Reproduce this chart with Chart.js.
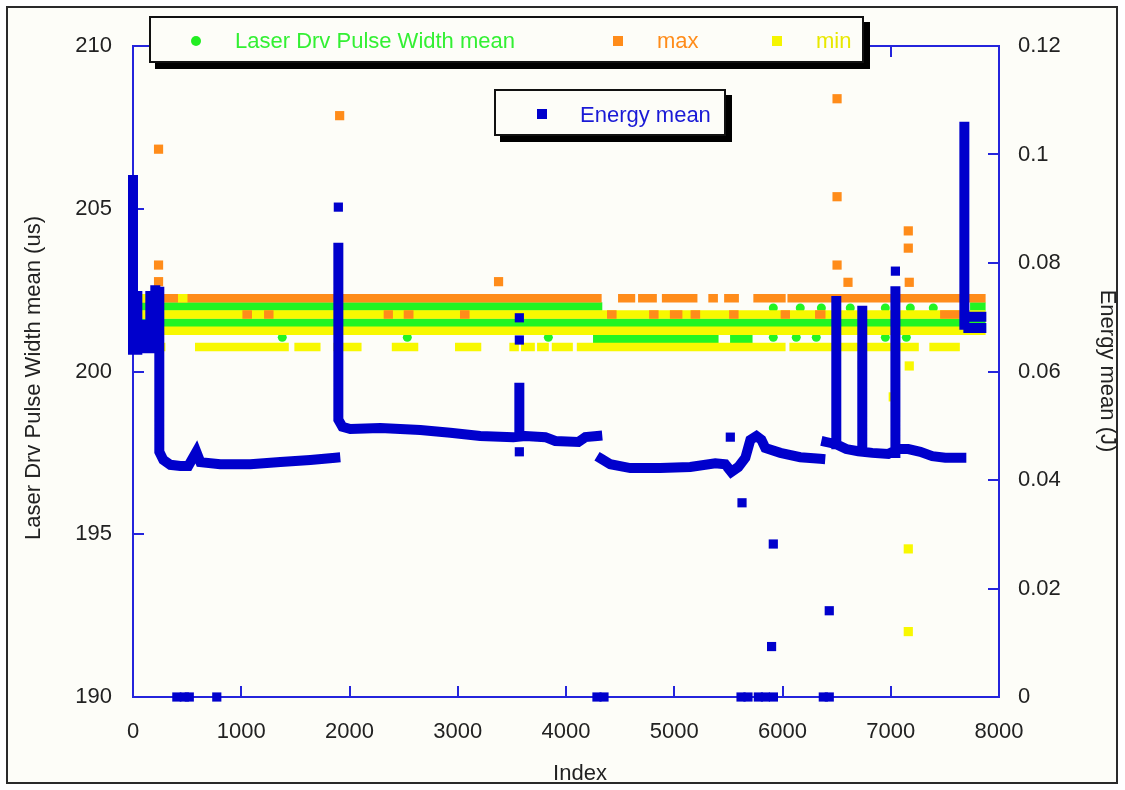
<!DOCTYPE html>
<html><head><meta charset="utf-8">
<script src="https://cdn.jsdelivr.net/npm/chart.js@4.4.1/dist/chart.umd.min.js"></script>
<style>
html,body{margin:0;padding:0;background:#fff;}
#wrap{position:relative;width:1125px;height:790px;overflow:hidden;font-family:'Liberation Sans',Arial,sans-serif;}
#frame{position:absolute;left:6px;top:6px;width:1112px;height:778px;box-sizing:border-box;border:2px solid #2a2a2a;background:#fdfdf8;z-index:0;}
#c{position:absolute;left:0;top:0;z-index:1;}
.lg{position:absolute;box-sizing:border-box;border:2px solid #111;background:#fdfdf8;box-shadow:6px 6px 0 #000;z-index:2;}
.t{position:absolute;font-size:22px;line-height:26px;white-space:nowrap;z-index:3;color:#222;}
.mk{position:absolute;z-index:3;}
</style></head>
<body><div id="wrap">
<div id="frame"></div>
<canvas id="c" width="1125" height="790"></canvas>
<div class="lg" style="left:149px;top:16px;width:715px;height:47px;"></div>
<div class="mk" style="left:191px;top:36px;width:10px;height:10px;border-radius:50%;background:#22ee22;"></div>
<div class="t" style="left:235px;top:28px;color:#33f033;">Laser Drv Pulse Width mean</div>
<div class="mk" style="left:613px;top:36px;width:10px;height:10px;background:#ff8c1a;"></div>
<div class="t" style="left:657px;top:28px;color:#ff8c1a;">max</div>
<div class="mk" style="left:772px;top:36px;width:10px;height:10px;background:#f5f500;"></div>
<div class="t" style="left:816px;top:28px;color:#e8e800;">min</div>
<div class="lg" style="left:494px;top:89px;width:232px;height:47px;"></div>
<div class="mk" style="left:537px;top:109px;width:10px;height:10px;background:#0000cc;"></div>
<div class="t" style="left:580px;top:102px;color:#1a1ad6;">Energy mean</div>
<div class="t" style="left:380px;top:760px;width:400px;text-align:center;">Index</div>
<div class="t" style="left:-167px;top:365px;width:400px;text-align:center;transform:rotate(-90deg);">Laser Drv Pulse Width mean (us)</div>
<div class="t" style="left:908px;top:358px;width:400px;text-align:center;transform:rotate(90deg);">Energy mean (J)</div>
</div>
<script>
// ---------- tick values / labels ----------
const xTicks = [0,1000,2000,3000,4000,5000,6000,7000,8000];
const xTickLabels = ['0','1000','2000','3000','4000','5000','6000','7000','8000'];
const leftTicks = [190,195,200,205,210];
const leftTickLabels = ['190','195','200','205','210'];
const rightTicks = [0,0.02,0.04,0.06,0.08,0.1,0.12];
const rightTickLabels = ['0','0.02','0.04','0.06','0.08','0.1','0.12'];

// ---------- Laser Drv Pulse Width (left axis) : runs [value, startIndex, endIndex] ----------
const meanRuns = [[202.0,0,4296],[202.0,7772,7837],[201.5,0,7837],[201.0,4289,5370],[201.0,5555,5684]];
const meanPts = [[5915,201.95],[6164,201.95],[6359,201.95],[6626,201.95],[6950,201.95],[7181,201.95],[7393,201.95],
  [1379,201.05],[2534,201.05],[3837,201.05],[5915,201.05],[6127,201.05],[6312,201.05],[6950,201.05],[7144,201.05]];
const maxRuns = [[202.25,0,4290],[202.25,4520,4600],[202.25,4705,4800],[202.25,4925,5175],[202.25,5354,5364],
  [202.25,5500,5558],[202.25,5770,5990],[202.25,6085,7837]];
const maxRunsLow = [[201.75,1050,1060],[201.75,1250,1259],[201.75,2355,2362],[201.75,2540,2552],[201.75,3060,3070],
  [201.75,4418,4428],[201.75,4807,4816],[201.75,4999,5036],[201.75,5190,5200],[201.75,5546,5555],[201.75,6022,6030],
  [201.75,6340,6358],[201.75,7495,7606]];
const maxPts = [[236,206.83],[236,203.27],[236,202.76],[1909,207.86],[3377,202.76],[6504,208.38],[6504,205.37],
  [6504,203.27],[6605,202.74],[7162,204.32],[7162,203.79],[7171,202.74]];
const minRuns = [[201.75,0,7837],[201.25,0,7837],[200.75,255,260],[200.75,612,1400],[200.75,1530,1693],[200.75,1890,2072],
  [200.75,2430,2596],[200.75,3014,3178],[200.75,3516,3525],[200.75,3624,3673],[200.75,3772,3802],[200.75,3908,4024],
  [200.75,4139,5989],[200.75,6103,7220],[200.75,7396,7599]];
const minRunsHigh = [[202.25,78,86],[202.25,455,464]];
const minPts = [[7162,194.55],[7162,192.01],[7171,200.17],[6737,200.2],[7023,199.22]];

// ---------- Energy mean (right axis): traced strokes [index, J] ----------
const energyStrokes = [
  [[0,0.0953],[0,0.0640]],
  [[40,0.0739],[40,0.0640]],
  [[77,0.0686],[77,0.0643]],
  [[114,0.0686],[114,0.0643]],
  [[160,0.0739],[160,0.0643]],
  [[206,0.0750],[206,0.0643]],
  [[243,0.0747],[243,0.0452],[280,0.0437],[345,0.0428],[437,0.0426],[511,0.0426],[585,0.0452],[622,0.0433],
   [806,0.0429],[1084,0.0429],[1361,0.0433],[1638,0.0437],[1869,0.0441]],
  [[1897,0.0828],[1897,0.0511],[1934,0.0498],[2008,0.0494],[2285,0.0496],[2654,0.0492],[2931,0.0487],[3208,0.0481],
   [3513,0.0479],[3624,0.0481],[3809,0.0479],[3901,0.0472],[4114,0.0470],[4179,0.0479],[4289,0.0481]],
  [[3569,0.0570],[3569,0.0492]],
  [[4326,0.0439],[4409,0.0429],[4594,0.0422],[4871,0.0422],[5148,0.0424],[5379,0.0431],[5471,0.0429],[5527,0.0415],
   [5592,0.0424],[5657,0.0441],[5703,0.0474],[5759,0.0481],[5805,0.0474],[5841,0.0459],[5980,0.0450],[6164,0.0442],[6349,0.0439]],
  [[6404,0.0470],[6497,0.0466],[6589,0.0457],[6700,0.0453],[6829,0.0450],[6977,0.0448],[7069,0.0457],[7162,0.0457],
   [7273,0.0452],[7384,0.0444],[7504,0.0441],[7652,0.0441]],
  [[6497,0.0730],[6497,0.0466]],
  [[6737,0.0712],[6737,0.0453]],
  [[7043,0.0748],[7043,0.0450]],
  [[7680,0.1051],[7680,0.0686]],
  [[7717,0.0701],[7837,0.0701]],
  [[7717,0.0680],[7837,0.0680]]
];
const energyPts = [[1897,0.0903],[7043,0.0785],[3569,0.0699],[3569,0.0658],[3569,0.0452],[5518,0.0479],[5626,0.0358],
  [5915,0.0282],[5899,0.0093],[6432,0.0159],
  [405,0],[474,0],[520,0],[774,0],[4286,0],[4351,0],[5617,0],[5681,0],[5777,0],[5842,0],[5916,0],[6377,0],[6432,0]];

// ---------- helpers ----------
function runsData(runs){const d=[];runs.forEach(([v,a,b])=>{d.push({x:a,y:v},{x:b,y:v},{x:b,y:null});});return d;}
function strokeData(strokes){const d=[];strokes.forEach(s=>{s.forEach(([x,y])=>d.push({x,y}));d.push({x:s[s.length-1][0],y:null});});return d;}
function ptsData(p){return p.map(([x,y])=>({x,y}));}

const GREEN='#22f522', ORANGE='#ff8c1a', YELLOW='#f8f800', BLUE='#0000cc', AXIS='#2424dc';
function runDs(data,color,order,axis,w){return {type:'line',data,yAxisID:axis||'y',borderColor:color,backgroundColor:color,
  borderWidth:w||8.5,borderCapStyle:'square',pointRadius:0,pointHitRadius:0,spanGaps:false,fill:false,tension:0,order};}
function ptDs(data,color,order,style,r,axis){return {type:'scatter',data,yAxisID:axis||'y',backgroundColor:color,
  borderWidth:0,pointBorderWidth:0,pointStyle:style,pointRadius:r,pointHoverRadius:r,showLine:false,order,clip:false};}

const axesPlugin={id:'axesBox',beforeDatasetsDraw(chart){
  const {ctx,chartArea:a,scales}=chart;ctx.save();ctx.strokeStyle=AXIS;ctx.lineWidth=2;
  ctx.strokeRect(a.left,a.top,a.right-a.left,a.bottom-a.top);
  const L=11;ctx.beginPath();
  xTicks.forEach(v=>{const p=Math.round(scales.x.getPixelForValue(v));ctx.moveTo(p,a.bottom);ctx.lineTo(p,a.bottom-L);ctx.moveTo(p,a.top);ctx.lineTo(p,a.top+L);});
  leftTicks.forEach(v=>{const p=Math.round(scales.y.getPixelForValue(v));ctx.moveTo(a.left,p);ctx.lineTo(a.left+L,p);});
  rightTicks.forEach(v=>{const p=Math.round(scales.y2.getPixelForValue(v));ctx.moveTo(a.right,p);ctx.lineTo(a.right-L,p);});
  ctx.stroke();ctx.restore();}};

function lab(ticks,labels){return (v)=>{const i=ticks.findIndex(t=>Math.abs(t-v)<1e-9);return i>=0?labels[i]:'';};}

Chart.defaults.font.family="'Liberation Sans', Arial, sans-serif";
Chart.defaults.font.size=22;
Chart.defaults.color='#222';

new Chart(document.getElementById('c'),{
  type:'scatter',
  data:{datasets:[
    ptDs(ptsData(energyPts),BLUE,0,'rect',6.5,'y2'),
    Object.assign(runDs(strokeData(energyStrokes),BLUE,1,'y2',10),{clip:false}),
    ptDs(ptsData(maxPts),ORANGE,2,'rect',6.5),
    ptDs(ptsData(minPts),YELLOW,2,'rect',6.5),
    runDs(runsData(maxRunsLow),ORANGE,3),
    runDs(runsData(minRunsHigh),YELLOW,3),
    runDs(runsData(minRuns),YELLOW,4),
    runDs(runsData(maxRuns),ORANGE,5),
    ptDs(ptsData(meanPts),GREEN,6,'circle',4.5),
    runDs(runsData(meanRuns),GREEN,7)
  ]},
  options:{
    responsive:false,animation:false,events:[],
    layout:{padding:{top:46,left:0,right:0,bottom:0}},
    plugins:{legend:{display:false},tooltip:{enabled:false}},
    scales:{
      x:{type:'linear',min:0,max:8000,grid:{display:false,drawTicks:false},border:{display:false},
        afterBuildTicks:s=>{s.ticks=xTicks.map(v=>({value:v}));},
        afterFit:s=>{s.height=93;},
        ticks:{padding:22,maxRotation:0,autoSkip:false,callback:lab(xTicks,xTickLabels)}},
      y:{type:'linear',position:'left',min:190,max:210,grid:{display:false,drawTicks:false},border:{display:false},
        afterBuildTicks:s=>{s.ticks=leftTicks.map(v=>({value:v}));},
        afterFit:s=>{s.width=133;},
        ticks:{padding:21,callback:lab(leftTicks,leftTickLabels)}},
      y2:{type:'linear',position:'right',min:0,max:0.12,grid:{display:false,drawTicks:false},border:{display:false},
        afterBuildTicks:s=>{s.ticks=rightTicks.map(v=>({value:v}));},
        afterFit:s=>{s.width=126;},
        ticks:{padding:19,callback:lab(rightTicks,rightTickLabels)}}
    }
  },
  plugins:[axesPlugin]
});
</script>
</body></html>
